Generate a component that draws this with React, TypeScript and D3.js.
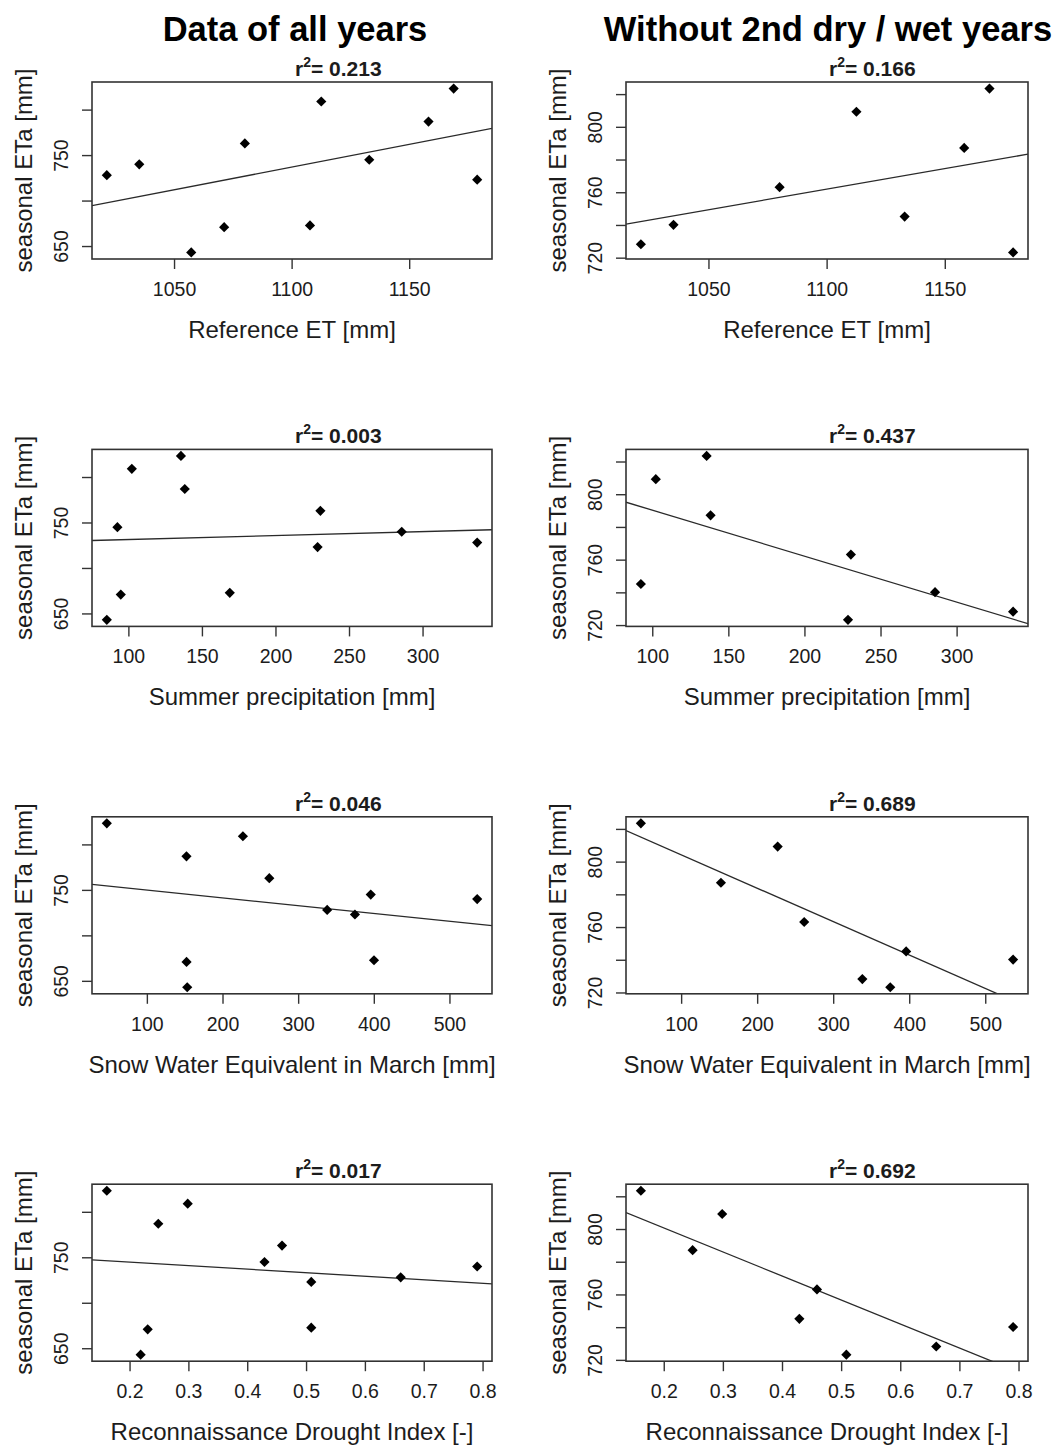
import React from "react";
import * as d3 from "d3";

// ---- data (one entry per year) ----
const seasonalETa = [643.5, 671.3, 673.2, 723.5, 728.5, 740.4, 745.4, 763.4, 787.4, 809.5, 823.7];
const referenceET = [1057.1, 1071.1, 1107.6, 1178.7, 1021.2, 1035.0, 1132.8, 1079.9, 1158.0, 1112.4, 1168.7];
const summerPrecip = [85.0, 94.5, 168.6, 228.3, 336.8, 285.5, 92.2, 230.2, 138.0, 102.0, 135.4];
const sweMarch = [152.7, 151.8, 399.6, 374.4, 337.7, 536.0, 395.3, 261.2, 151.7, 226.3, 46.4];
const rdiIndex = [0.218, 0.23, 0.508, 0.508, 0.66, 0.79, 0.4285, 0.4583, 0.248, 0.298, 0.1605];
const secondDryWetYear = [true, true, true, false, false, false, false, false, false, false, false];

// regression fits [intercept, slope]
const fitAllYears = [[186.8, 0.5006], [727.5, 0.0434], [758.9, -0.0859], [753.0, -38.86]];
const fitWithout = [[485.9, 0.2512], [818.6, -0.2812], [824.8, -0.2043], [830.2, -146.8]];
const r2AllYears = ["0.213", "0.003", "0.046", "0.017"];
const r2Without = ["0.166", "0.437", "0.689", "0.692"];

const xLabels = [
  "Reference ET [mm]",
  "Summer precipitation [mm]",
  "Snow Water Equivalent in March [mm]",
  "Reconnaissance Drought Index [-]",
];
const xTickValues = [
  [1050, 1100, 1150],
  [100, 150, 200, 250, 300],
  [100, 200, 300, 400, 500],
  [0.2, 0.3, 0.4, 0.5, 0.6, 0.7, 0.8],
];
const yTicksAll = [650, 700, 750, 800];
const yLabelsAll = [650, 750];
const yTicksSub = [720, 740, 760, 780, 800, 820];
const yLabelsSub = [720, 760, 800];
const columnTitles = ["Data of all years", "Without 2nd dry / wet years"];
const yAxisTitle = "seasonal ETa [mm]";

const xSeries = [referenceET, summerPrecip, sweMarch, rdiIndex];

const FONT = "Liberation Sans, Arial, sans-serif";
const INK = "#1c1c1c";
const BOX = "#333";

const cols = [
  { left: 92, right: 492 },
  { left: 626, right: 1028 },
];
const rowTop0 = 82;
const rowStep = 367.4;
const boxH = 177;

function padExtent(vals: number[]): [number, number] {
  const [a, b] = d3.extent(vals) as [number, number];
  const p = (b - a) * 0.04;
  return [a - p, b + p];
}

const diamond = d3.symbol().type((d3 as any).symbolDiamond2 || d3.symbolDiamond).size(66)();

function Panel({ row, col }: { row: number; col: number }) {
  const c = cols[col];
  const top = rowTop0 + row * rowStep;
  const bottom = top + boxH;
  const idx = seasonalETa.map((_, i) => i).filter((i) => col === 0 || !secondDryWetYear[i]);
  const xs = idx.map((i) => xSeries[row][i]);
  const ys = idx.map((i) => seasonalETa[i]);
  const x = d3.scaleLinear().domain(padExtent(xs)).range([c.left, c.right]);
  const y = d3.scaleLinear().domain(padExtent(ys)).range([bottom, top]);
  const fit = (col === 0 ? fitAllYears : fitWithout)[row];
  const [x0, x1] = x.domain();
  const line = d3.line<number>().x((v) => x(v)).y((v) => y(fit[0] + fit[1] * v));
  const yTicks = col === 0 ? yTicksAll : yTicksSub;
  const yLab = col === 0 ? yLabelsAll : yLabelsSub;
  const clipId = `clip-${row}-${col}`;
  const fmt = row === 3 ? d3.format(".1f") : d3.format("d");
  const r2 = (col === 0 ? r2AllYears : r2Without)[row];
  const midY = (top + bottom) / 2;
  return (
    <g>
      <defs>
        <clipPath id={clipId}>
          <rect x={c.left} y={top} width={c.right - c.left} height={boxH} />
        </clipPath>
      </defs>
      <path d={line([x0, x1]) || ""} stroke="#2a2a2a" strokeWidth={1.3} fill="none" clipPath={`url(#${clipId})`} />
      {idx.map((i) => (
        <path key={i} d={diamond || ""} transform={`translate(${x(xSeries[row][i])},${y(seasonalETa[i])})`} fill="#000" />
      ))}
      <rect x={c.left} y={top} width={c.right - c.left} height={boxH} fill="none" stroke={BOX} strokeWidth={1.6} />
      {xTickValues[row].map((t) => (
        <g key={t}>
          <line x1={x(t)} x2={x(t)} y1={bottom} y2={bottom + 10} stroke={BOX} strokeWidth={1.4} />
          <text x={x(t)} y={bottom + 37} textAnchor="middle" fontSize={19.5} fontFamily={FONT} fill={INK}>
            {fmt(t)}
          </text>
        </g>
      ))}
      {yTicks.map((t) => (
        <line key={t} x1={c.left - 10} x2={c.left} y1={y(t)} y2={y(t)} stroke={BOX} strokeWidth={1.4} />
      ))}
      {yLab.map((t) => (
        <text key={t} transform={`translate(${c.left - 24},${y(t)}) rotate(-90)`} textAnchor="middle" fontSize={19.5} fontFamily={FONT} fill={INK}>
          {t}
        </text>
      ))}
      <text x={(c.left + c.right) / 2} y={bottom + 79} textAnchor="middle" fontSize={24} fontFamily={FONT} fill={INK}>
        {xLabels[row]}
      </text>
      <text transform={`translate(${c.left - 60},${midY}) rotate(-90)`} textAnchor="middle" fontSize={24} fontFamily={FONT} fill={INK}>
        {yAxisTitle}
      </text>
      <text x={c.left + 203} y={top - 6} fontSize={21} fontWeight="bold" fontFamily={FONT} fill={INK}>
        <tspan>r</tspan>
        <tspan dy={-9} fontSize={14}>2</tspan>
        <tspan dy={9}>= {r2}</tspan>
      </text>
    </g>
  );
}

export default function App() {
  return (
    <svg width={1056} height={1445} style={{ position: "absolute", left: 0, top: 0, background: "#fff" }}>
      <rect width={1056} height={1445} fill="#fff" />
      {columnTitles.map((t, i) => (
        <text key={t} x={i === 0 ? 295 : 828} y={41} textAnchor="middle" fontSize={34.5} fontWeight="bold" fontFamily={FONT} fill="#000">
          {t}
        </text>
      ))}
      {[0, 1, 2, 3].map((r) => [0, 1].map((c) => <Panel key={`${r}-${c}`} row={r} col={c} />))}
    </svg>
  );
}
